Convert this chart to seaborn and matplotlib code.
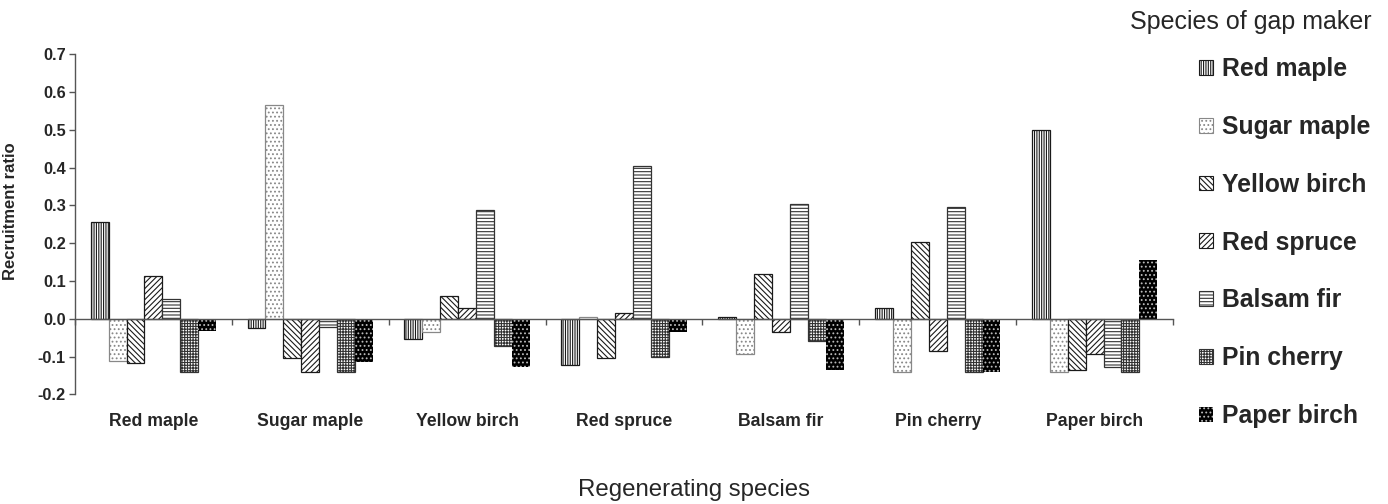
import matplotlib
matplotlib.use("Agg")
import matplotlib.pyplot as plt
from matplotlib.patches import Patch
from matplotlib.ticker import FormatStrFormatter, FixedLocator
import seaborn as sns
import pandas as pd
import numpy as np

# ---- data ----
regenerating = ["Red maple", "Sugar maple", "Yellow birch", "Red spruce",
                "Balsam fir", "Pin cherry", "Paper birch"]
gap_makers = ["Red maple", "Sugar maple", "Yellow birch", "Red spruce",
              "Balsam fir", "Pin cherry", "Paper birch"]

# values per gap maker, across regenerating species
red_maple    = [0.255, -0.025, -0.054, -0.122, 0.004, 0.028, 0.500]
sugar_maple  = [-0.111, 0.567, -0.036, 0.004, -0.094, -0.141, -0.141]
yellow_birch = [-0.118, -0.103, 0.060, -0.103, 0.119, 0.203, -0.136]
red_spruce   = [0.112, -0.142, 0.029, 0.016, -0.036, -0.085, -0.094]
balsam_fir   = [0.051, -0.022, 0.287, 0.404, 0.303, 0.297, -0.127]
pin_cherry   = [-0.142, -0.142, -0.071, -0.101, -0.060, -0.141, -0.141]
paper_birch  = [-0.032, -0.115, -0.127, -0.036, -0.136, -0.141, 0.155]

series = [red_maple, sugar_maple, yellow_birch, red_spruce,
          balsam_fir, pin_cherry, paper_birch]

rows = []
for g, vals in zip(gap_makers, series):
    for r, v in zip(regenerating, vals):
        rows.append({"regen": r, "gap": g, "ratio": v})
df = pd.DataFrame(rows)

# ---- styling ----
sns.set_theme(style="white")
plt.rcParams["font.family"] = ["Liberation Sans", "DejaVu Sans"]
plt.rcParams["axes.unicode_minus"] = False
plt.rcParams["hatch.linewidth"] = 0.8

hatches = ["|||||||", "....", "\\" * 6, "/" * 6, "-----", "++++++", "...."]
faces = ["white"] * 6 + ["black"]
edges = ["#1a1a1a", "#888888", "#1a1a1a", "#1a1a1a", "#333333", "#333333", "#bbbbbb"]
lws = [0.9] * 6 + [0.0]

W, H = 1388, 504
fig = plt.figure(figsize=(W / 100, H / 100), dpi=100)
ax = fig.add_axes([75 / W, 1 - 394.3 / H, 1098 / W, 340 / H])

sns.barplot(data=df, x="regen", y="ratio", hue="gap", order=regenerating,
            hue_order=gap_makers, palette=faces, saturation=1, width=0.8,
            dodge=True, legend=False, ax=ax, errorbar=None)

for cont, h, ec, lw in zip(ax.containers, hatches, edges, lws):
    for p in cont:
        p.set_hatch(h)
        p.set_edgecolor(ec)
        p.set_linewidth(lw)

ax.set_xlim(-0.5, 6.5)
ax.set_ylim(-0.2, 0.7)
ax.set_yticks(np.round(np.arange(-0.2, 0.71, 0.1), 1))
ax.yaxis.set_major_formatter(FormatStrFormatter("%.1f"))

for s in ["top", "right"]:
    ax.spines[s].set_visible(False)
ax.spines["left"].set_color("#555555")
ax.spines["left"].set_linewidth(1.0)
ax.spines["bottom"].set_position(("data", 0))
ax.spines["bottom"].set_color("#555555")
ax.spines["bottom"].set_linewidth(1.0)

ax.tick_params(axis="y", which="major", direction="out", length=4.5, width=1,
               color="#555555", pad=2, labelsize=11.8, left=True)
for t in ax.get_yticklabels():
    t.set_fontweight("bold")

ax.set_xticks(range(len(regenerating)))
ax.set_xticklabels(regenerating, fontsize=12.7, fontweight="bold")
ax.xaxis.set_minor_locator(FixedLocator(np.arange(-0.5, 7.0, 1.0)))
ax.tick_params(axis="x", which="major", length=0, pad=68, bottom=True)
ax.tick_params(axis="x", which="minor", direction="out", length=4.5, width=1,
               color="#555555", bottom=True)

ax.set_xlabel("")
ax.set_ylabel("Recruitment ratio", fontsize=12, fontweight="bold")
ax.yaxis.set_label_coords(-0.052, 0.539)

fig.text(694 / W, 1 - 490 / H, "Regenerating species", fontsize=17.3,
         ha="center", va="center")
fig.text(1372 / W, 1 - 22 / H, "Species of gap maker", fontsize=18,
         ha="right", va="center")

handles = [Patch(facecolor=f, edgecolor=e, hatch=h, linewidth=0.8 if lw else 0)
           for f, e, h, lw in zip(faces, edges, hatches, lws)]
fig.legend(handles, gap_makers, loc="upper left",
           bbox_to_anchor=(1199 / W, 1 - 57 / H), frameon=False,
           prop={"family": ["Liberation Sans"], "weight": "bold", "size": 17.8},
           handlelength=0.55, handleheight=0.55, handletextpad=0.4,
           labelspacing=1.37, borderpad=0, borderaxespad=0)

fig.savefig("out.png", dpi=100)
